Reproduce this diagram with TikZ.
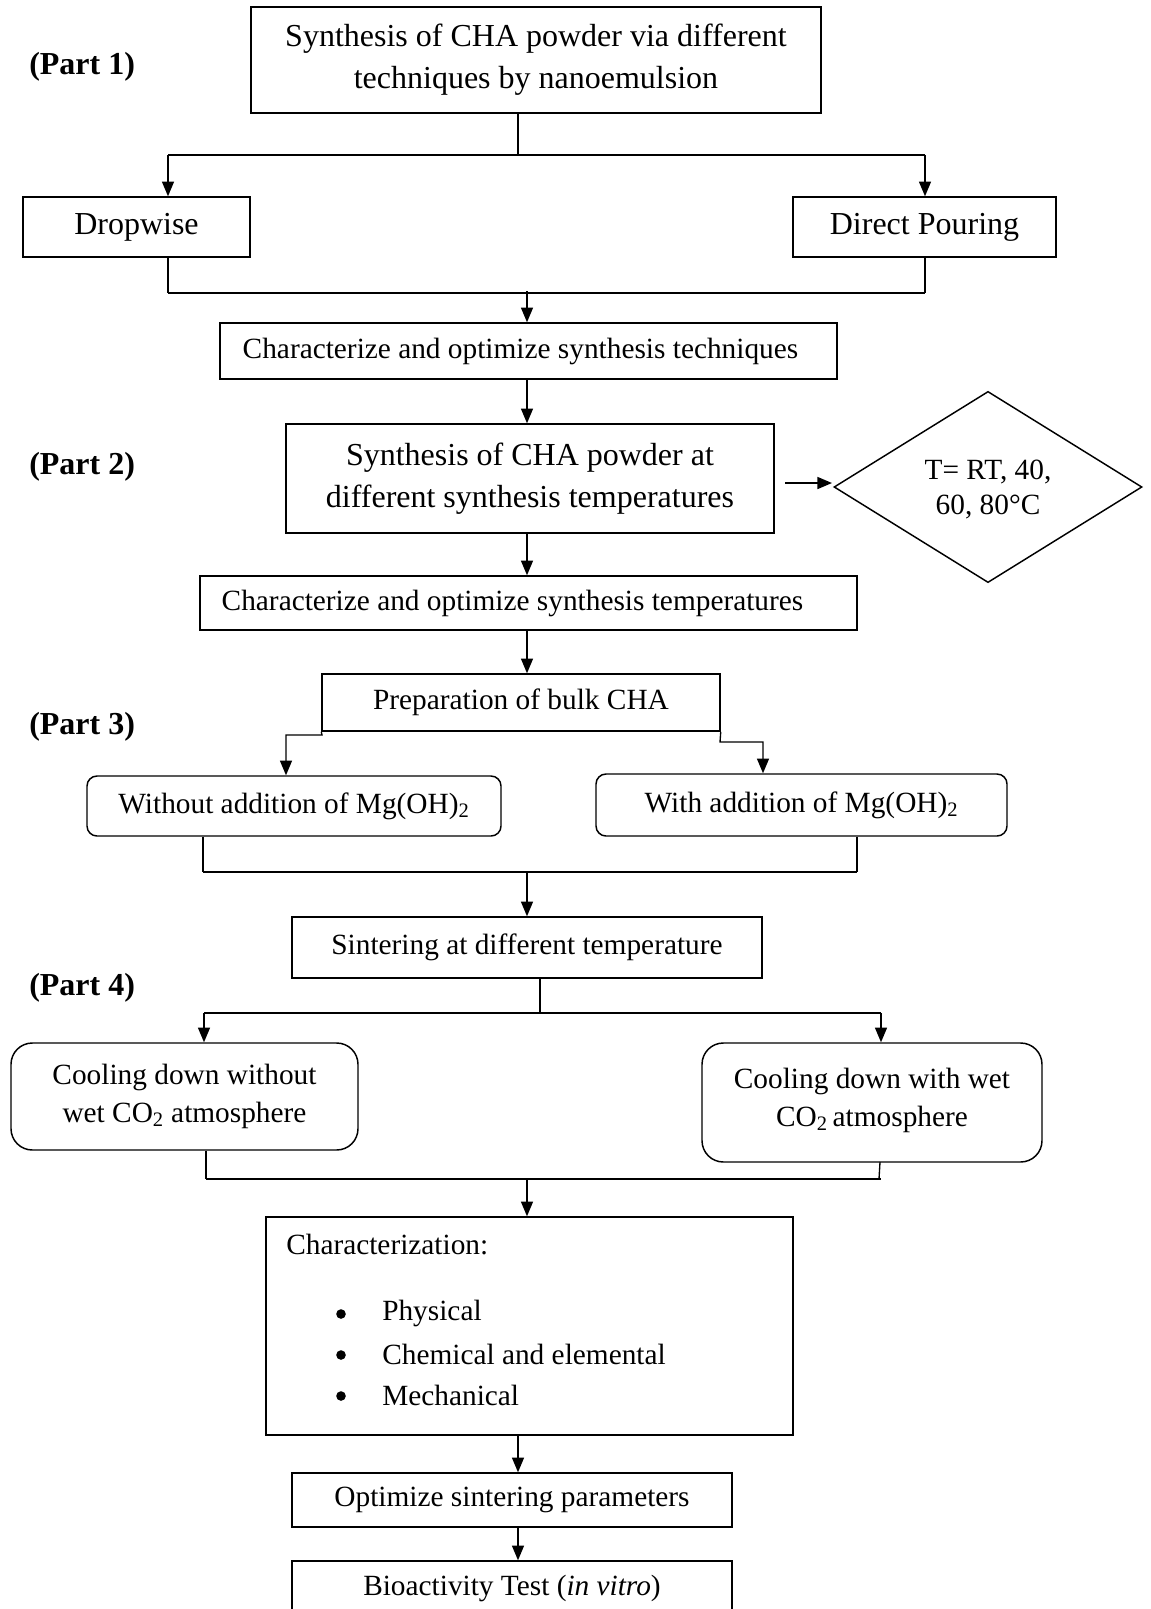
\documentclass[tikz,border=0pt]{standalone}
\usepackage{fontspec}
\setmainfont{Liberation Serif}
\usetikzlibrary{arrows.meta,shapes.geometric}
\begin{document}
\begin{tikzpicture}[x=0.75pt,y=-0.75pt,
  box/.style={draw,line width=1.1pt,inner sep=0pt,align=center,font=\fontsize{22}{29}\selectfont},
  bigbox/.style={box,font=\fontsize{24}{31.5}\selectfont},
  rbox/.style={box,rounded corners=7.5pt},
  cbox/.style={box,rounded corners=16pt,font=\fontsize{22}{28.5}\selectfont},
  part/.style={inner sep=0pt,anchor=west,font=\fontsize{24}{29}\selectfont\bfseries},
  conn/.style={line width=1pt},
  bar/.style={line width=1.5pt},
  arr/.style={line width=1pt,-{Triangle[length=11pt,width=9pt]}},
  txt/.style={inner sep=0pt,anchor=west,font=\fontsize{22}{29}\selectfont}]
\useasboundingbox (0,0) rectangle (1150,1609);
\fill[white] (0,0) rectangle (1150,1609);

% part labels
\node[part] (p1) at (29,67) {(Part 1)};
\node[part] (p2) at (29,467) {(Part 2)};
\node[part] (p3) at (29,727) {(Part 3)};
\node[part] (p4) at (29,988) {(Part 4)};

% boxes
\node[bigbox,minimum width=427.5pt,minimum height=79.5pt] (top) at (536,60)
  {Synthesis of CHA powder via different\\techniques by nanoemulsion};
\node[bigbox,minimum width=170.25pt,minimum height=45pt] (drop) at (136.5,227) {Dropwise};
\node[bigbox,minimum width=197.25pt,minimum height=45pt] (pour) at (924.5,227) {Direct Pouring};
\node[box,minimum width=462.75pt,minimum height=42pt] (char1) at (528.5,351)
  {\hspace*{-12pt}Characterize and optimize synthesis techniques};
\node[bigbox,minimum width=366pt,minimum height=81.75pt] (synt2) at (530,478.5)
  {Synthesis of CHA powder at\\different synthesis temperatures};
\node[draw,diamond,line width=1.1pt,inner sep=0pt,minimum width=231pt,minimum height=123pt,
  align=center,font=\fontsize{22}{26.5}\selectfont] (temp) at (988,487) {\\[-8pt]T= RT, 40,\\60, 80°C};
\node[box,minimum width=492.75pt,minimum height=40.5pt] (char2) at (528.5,603)
  {\hspace*{-24pt}Characterize and optimize synthesis temperatures};
\node[box,minimum width=298.5pt,minimum height=42.75pt] (prep) at (521,702.5) {Preparation of bulk CHA};
\node[rbox,minimum width=310.5pt,minimum height=45pt] (wo) at (294,806)
  {Without addition of Mg(OH)\textsubscript{2}};
\node[rbox,minimum width=308.25pt,minimum height=46.5pt] (wi) at (801.5,805)
  {With addition of Mg(OH)\textsubscript{2}};
\node[box,minimum width=352.5pt,minimum height=45.75pt] (sint) at (527,947.5)
  {Sintering at different temperature};
\node[cbox,minimum width=260.25pt,minimum height=80.25pt] (cwo) at (184.5,1096.5)
  {Cooling down without\\wet CO\textsubscript{2} atmosphere};
\node[cbox,minimum width=255pt,minimum height=89.25pt] (cwi) at (872,1102.5)
  {Cooling down with wet\\CO\textsubscript{2}\,atmosphere\\[-20pt]};
\node[box,minimum width=395.25pt,minimum height=163.5pt] (charz) at (529.5,1326) {};
\node[txt] (cz0) at (286,1245) {Characterization:};
\node[txt] (cz1) at (382,1313) {Physical};
\node[txt] (cz2) at (382,1354) {Chemical and elemental};
\node[txt] (cz3) at (382,1395) {Mechanical};
\foreach \yy in {1313,1354,1395}
  \fill (341,\yy+1) circle[radius=4.8];
\node[box,minimum width=330pt,minimum height=40.5pt] (optim) at (512,1500) {Optimize sintering parameters};
\node[box,minimum width=330pt,minimum height=40.5pt] (bio) at (512,1588) {Bioactivity Test (\textit{in vitro})};

% connectors part 1
\coordinate (a0) at (518,155);
\coordinate (a1) at (168,155);
\coordinate (a2) at (925,155);
\draw[conn] (top.south -| a0) -- (a0);
\draw[bar] (a1) -- (a2);
\draw[arr] (a1) -- (a1 |- drop.north);
\draw[arr] (a2) -- (a2 |- pour.north);
\coordinate (b1) at (168,293);
\coordinate (b2) at (925,293);
\coordinate (b0) at (527,291);
\draw[conn] (b1 |- drop.south) -- (b1);
\draw[conn] (b2 |- pour.south) -- (b2);
\draw[bar] (b1) -- (b2);
\draw[arr] (b0) -- (b0 |- char1.north);

% part 2
\coordinate (c0) at (527,0);
\draw[arr] (c0 |- char1.south) -- (c0 |- synt2.north);
\coordinate (d1) at (785,483);
\coordinate (d2) at (832,483);
\draw[arr,line width=1.3pt] (d1) -- (d2);
\draw[arr] (c0 |- synt2.south) -- (c0 |- char2.north);
\draw[arr] (c0 |- char2.south) -- (c0 |- prep.north);

% part 3
\coordinate (e1) at (286,735);
\coordinate (e2) at (763,742);
\draw[arr] (prep.south west) -- (322,735) -- (e1) -- (e1 |- wo.north);
\draw[arr] (prep.south east) -- (720,742) -- (e2) -- (e2 |- wi.north);
\coordinate (f1) at (203,872);
\coordinate (f2) at (857,872);
\coordinate (f0) at (527,872);
\draw[conn] (f1 |- wo.south) -- (f1);
\draw[conn] (f2 |- wi.south) -- (f2);
\draw[bar] (f1) -- (f2);
\draw[arr] (f0) -- (f0 |- sint.north);

% part 4
\coordinate (g0) at (540,1013);
\coordinate (g1) at (204,1013);
\coordinate (g2) at (881,1013);
\draw[conn] (g0 |- sint.south) -- (g0);
\draw[bar] (g1) -- (g2);
\draw[arr] (g1) -- (g1 |- cwo.north);
\draw[arr] (g2) -- (g2 |- cwi.north);
\coordinate (h1) at (206,1179);
\coordinate (h2) at (879,1179);
\coordinate (h0) at (527,1179);
\draw[conn] (h1 |- cwo.south) -- (h1);
\draw[conn] (880,1162) -- (h2);
\draw[bar] (h1) -- (881,1179);
\draw[arr] (h0) -- (h0 |- charz.north);
\coordinate (k0) at (518,0);
\draw[arr] (k0 |- charz.south) -- (k0 |- optim.north);
\draw[arr] (k0 |- optim.south) -- (k0 |- bio.north);
\end{tikzpicture}
\end{document}
